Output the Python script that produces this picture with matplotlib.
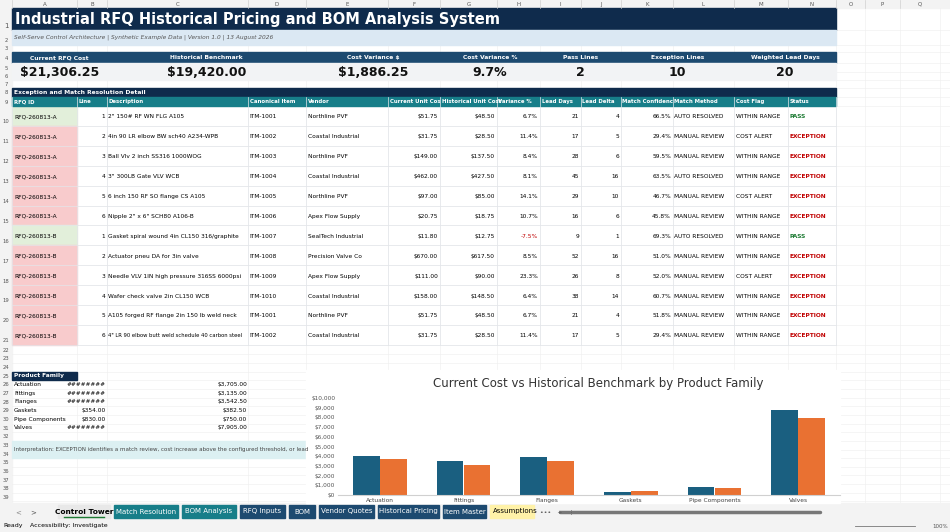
import matplotlib
matplotlib.use("Agg")
import matplotlib.pyplot as plt
from matplotlib.patches import Rectangle
import numpy as np

families = ["Actuation", "Fittings", "Flanges", "Gaskets", "Pipe Components", "Valves"]
current_cost = [4010.00, 3478.25, 3890.00, 354.00, 830.00, 8744.00]
historical_cost = [3705.00, 3135.00, 3542.50, 382.50, 750.00, 7905.00]

kpi_labels = ["Current RFQ Cost", "Historical Benchmark", "Cost Variance $", "Cost Variance %",
              "Pass Lines", "Exception Lines", "Weighted Lead Days"]
kpi_values = ["$21,306.25", "$19,420.00", "$1,886.25", "9.7%", "2", "10", "20"]

headers = ["RFQ ID", "Line", "Description", "Canonical Item", "Vendor", "Current Unit Cos",
           "Historical Unit Cost", "Variance %", "Lead Days", "Lead Delta", "Match Confidenc",
           "Match Method", "Cost Flag", "Status"]
rfq_ids = ["RFQ-260813-A"] * 6 + ["RFQ-260813-B"] * 6
lines = [1, 2, 3, 4, 5, 6, 1, 2, 3, 4, 5, 6]
descs = ['2" 150# RF WN FLG A105', "4in 90 LR elbow BW sch40 A234-WPB", "Ball Vlv 2 inch SS316 1000WOG",
         '3" 300LB Gate VLV WCB', "6 inch 150 RF SO flange CS A105", 'Nipple 2" x 6" SCH80 A106-B',
         "Gasket spiral wound 4in CL150 316/graphite", "Actuator pneu DA for 3in valve",
         "Needle VLV 1IN high pressure 316SS 6000psi", "Wafer check valve 2in CL150 WCB",
         "A105 forged RF flange 2in 150 lb weld neck", '4" LR 90 elbow butt weld schedule 40 carbon steel']
items = ["ITM-1001", "ITM-1002", "ITM-1003", "ITM-1004", "ITM-1005", "ITM-1006", "ITM-1007",
         "ITM-1008", "ITM-1009", "ITM-1010", "ITM-1001", "ITM-1002"]
vendors = ["Northline PVF", "Coastal Industrial", "Northline PVF", "Coastal Industrial", "Northline PVF",
           "Apex Flow Supply", "SealTech Industrial", "Precision Valve Co", "Apex Flow Supply",
           "Coastal Industrial", "Northline PVF", "Coastal Industrial"]
cur_unit = [51.75, 31.75, 149.00, 462.00, 97.00, 20.75, 11.80, 670.00, 111.00, 158.00, 51.75, 31.75]
hist_unit = [48.50, 28.50, 137.50, 427.50, 85.00, 18.75, 12.75, 617.50, 90.00, 148.50, 48.50, 28.50]
var_pct = [6.7, 11.4, 8.4, 8.1, 14.1, 10.7, -7.5, 8.5, 23.3, 6.4, 6.7, 11.4]
lead_days = [21, 17, 28, 45, 29, 16, 9, 52, 26, 38, 21, 17]
lead_delta = [4, 5, 6, 16, 10, 6, 1, 16, 8, 14, 4, 5]
match_conf = [66.5, 29.4, 59.5, 63.5, 46.7, 45.8, 69.3, 51.0, 52.0, 60.7, 51.8, 29.4]
methods = ["AUTO RESOLVED", "MANUAL REVIEW", "MANUAL REVIEW", "AUTO RESOLVED", "MANUAL REVIEW",
           "MANUAL REVIEW", "AUTO RESOLVED", "MANUAL REVIEW", "MANUAL REVIEW", "MANUAL REVIEW",
           "MANUAL REVIEW", "MANUAL REVIEW"]
flags = ["WITHIN RANGE", "COST ALERT", "WITHIN RANGE", "WITHIN RANGE", "COST ALERT", "WITHIN RANGE",
         "WITHIN RANGE", "WITHIN RANGE", "COST ALERT", "WITHIN RANGE", "WITHIN RANGE", "WITHIN RANGE"]
statuses = ["PASS", "EXCEPTION", "EXCEPTION", "EXCEPTION", "EXCEPTION", "EXCEPTION", "PASS",
            "EXCEPTION", "EXCEPTION", "EXCEPTION", "EXCEPTION", "EXCEPTION"]
pf_col_b = ["########", "########", "########", "$354.00", "$830.00", "########"]
sheet_tabs = ["Match Resolution", "BOM Analysis", "RFQ Inputs", "BOM", "Vendor Quotes",
              "Historical Pricing", "Item Master"]

NAVY = "#0f2b4c"; TEAL = "#177e89"; KPI = "#1d4a70"
fig = plt.figure(figsize=(9.5, 5.32), dpi=100)
ax = fig.add_axes([0, 0, 1, 1])
ax.set_xlim(0, 950); ax.set_ylim(532, 0); ax.axis("off")

cols = [12, 77, 107, 248, 306, 388, 440, 497, 540, 581, 621, 673, 734, 788, 836, 865, 900, 940, 950]
letters = "ABCDEFGHIJKLMNOPQ"
ax.add_patch(Rectangle((0, 0), 950, 8, color="#f3f3f3", zorder=0))
for i, L in enumerate(letters):
    ax.text((cols[i] + cols[i + 1]) / 2, 4.2, L, ha="center", va="center", fontsize=4, color="#555")
    ax.plot([cols[i], cols[i]], [0, 8], color="#d0d0d0", lw=0.5)
rows = {1: (8, 30), 2: (30, 45), 3: (45, 52), 4: (52, 63), 5: (63, 72), 6: (72, 80), 7: (80, 88),
        8: (88, 97), 9: (97, 106)}
for r in range(10, 22):
    y0 = 106 + (r - 10) * 19.9
    rows[r] = (y0, y0 + 19.9)
for r in range(22, 40):
    y0 = 345.7 + (r - 22) * 8.65
    rows[r] = (y0, y0 + 8.65)
ax.add_patch(Rectangle((0, 8), 12, 495, color="#f3f3f3", zorder=0))
for r, (a, b) in rows.items():
    ax.text(6, b - 1.5, str(r), ha="center", va="bottom", fontsize=3.8 if r > 1 else 5, color="#555")
    ax.plot([12, 950], [b, b], color="#eeeeee", lw=0.4, zorder=0)
for x in cols[1:]:
    ax.plot([x, x], [8, 503], color="#eeeeee", lw=0.4, zorder=0)

ax.add_patch(Rectangle((12, 8), 824, 22, color=NAVY))
ax.text(15, 19.5, "Industrial RFQ Historical Pricing and BOM Analysis System", fontsize=10.5,
        fontweight="bold", color="white", va="center")
ax.add_patch(Rectangle((12, 30), 824, 15, color="#dbe8f3"))
ax.text(14, 37.5, "Self-Serve Control Architecture | Synthetic Example Data | Version 1.0 | 13 August 2026",
        fontsize=4.2, style="italic", color="#555", va="center")
kx = [(12, 107), (107, 306), (306, 440), (440, 540), (540, 621), (621, 734), (734, 836)]
ax.add_patch(Rectangle((12, 52), 824, 11, color=KPI))
ax.add_patch(Rectangle((12, 63), 824, 17, color="#f2f3f5"))
for (a, b), lab, val in zip(kx, kpi_labels, kpi_values):
    ax.text((a + b) / 2, 57.5, lab, ha="center", va="center", fontsize=4.3, fontweight="bold", color="white")
    ax.text((a + b) / 2, 72, val, ha="center", va="center", fontsize=9, fontweight="bold", color="#111")
ax.add_patch(Rectangle((12, 88), 824, 9, color=NAVY))
ax.text(14, 92.5, "Exception and Match Resolution Detail", fontsize=4.3, fontweight="bold", color="white", va="center")
ax.add_patch(Rectangle((12, 97), 824, 9, color=TEAL))
for i, h in enumerate(headers):
    ax.text(cols[i] + 1.5, 101.5, h, fontsize=3.9, fontweight="bold", color="white", va="center")
    ax.plot([cols[i], cols[i]], [97, 345], color="#e3e6ea", lw=0.5, zorder=1)
ax.plot([836, 836], [97, 345], color="#e3e6ea", lw=0.5)
for k in range(12):
    y0, y1 = rows[10 + k]; yc = (y0 + y1) / 2 + 1
    ax.plot([12, 836], [y1, y1], color="#e3e6ea", lw=0.5)
    ax.add_patch(Rectangle((12, y0), 65, y1 - y0, color="#e2efda" if statuses[k] == "PASS" else "#f8cbcc", zorder=0.5))
    fs = 4.2
    ax.text(14, yc, rfq_ids[k], fontsize=fs, va="center")
    ax.text(cols[2] - 1.5, yc, str(lines[k]), fontsize=fs, va="center", ha="right")
    ax.text(cols[2] + 1.5, yc, descs[k], fontsize=fs if len(descs[k]) < 45 else 3.8, va="center")
    ax.text(cols[3] + 1.5, yc, items[k], fontsize=fs, va="center")
    ax.text(cols[4] + 1.5, yc, vendors[k], fontsize=fs, va="center")
    ax.text(cols[6] - 2, yc, f"${cur_unit[k]:,.2f}", fontsize=fs, va="center", ha="right")
    ax.text(cols[7] - 2, yc, f"${hist_unit[k]:,.2f}", fontsize=fs, va="center", ha="right")
    ax.text(cols[8] - 2, yc, f"{var_pct[k]:.1f}%", fontsize=fs, va="center", ha="right",
            color="#c00000" if var_pct[k] < 0 else "black")
    ax.text(cols[9] - 2, yc, str(lead_days[k]), fontsize=fs, va="center", ha="right")
    ax.text(cols[10] - 2, yc, str(lead_delta[k]), fontsize=fs, va="center", ha="right")
    ax.text(cols[11] - 2, yc, f"{match_conf[k]:.1f}%", fontsize=fs, va="center", ha="right")
    ax.text(cols[11] + 1.5, yc, methods[k], fontsize=fs, va="center")
    ax.text(cols[12] + 1.5, yc, flags[k], fontsize=fs, va="center")
    ax.text(cols[13] + 1.5, yc, statuses[k], fontsize=fs, va="center", fontweight="bold",
            color="#1e7b34" if statuses[k] == "PASS" else "#c00000")

y0, y1 = rows[25]
ax.add_patch(Rectangle((12, y0), 65, y1 - y0, color=NAVY))
ax.text(14, (y0 + y1) / 2, "Product Family", fontsize=4.2, fontweight="bold", color="white", va="center")
for k, f in enumerate(families):
    a, b = rows[26 + k]; yc = (a + b) / 2
    ax.text(14, yc, f, fontsize=4.2, va="center")
    ax.text(106, yc, pf_col_b[k], fontsize=4.2, va="center", ha="right")
    ax.text(247, yc, f"${historical_cost[k]:,.2f}", fontsize=4.2, va="center", ha="right")
box = Rectangle((12, rows[33][0]), 294, rows[34][1] - rows[33][0], color="#dcf0f2", zorder=0.5)
ax.add_patch(box)
t = ax.text(14, rows[33][1], "Interpretation: EXCEPTION identifies a match review, cost increase above the configured threshold, or lead",
            fontsize=4.0, color="#444", va="center")
t.set_clip_path(box)

ax.add_patch(Rectangle((0, 503), 950, 29, color="#f3f3f3"))
ax.text(15, 512, "<", fontsize=5, color="#888", va="center"); ax.text(30, 512, ">", fontsize=5, color="#555", va="center")
ax.add_patch(Rectangle((58, 505), 52, 13, color="#e8e8e8"))
ax.text(84, 511.5, "Control Tower", fontsize=5.3, ha="center", va="center", fontweight="bold")
ax.plot([64, 104], [517, 517], color="#1e7b34", lw=1)
tx = 114
tab_w = [64, 54, 45, 26, 55, 61, 43]
for k, (tname, w) in enumerate(zip(sheet_tabs, tab_w)):
    c = TEAL if k < 2 else KPI
    ax.add_patch(Rectangle((tx, 505), w, 13, color=c))
    ax.text(tx + w / 2, 511.5, tname, fontsize=5, color="white", ha="center", va="center")
    tx += w + 4
ab = Rectangle((tx, 505), 44, 13, color="#fff2a8")
ax.add_patch(ab)
at = ax.text(tx + 3, 511.5, "Assumptions", fontsize=5, va="center")
at.set_clip_path(ab)
ax.text(tx + 50, 511.5, "•••   +   ⋮", fontsize=4.5, va="center", color="#555")
ax.plot([560, 820], [511.5, 511.5], color="#777", lw=2.5, solid_capstyle="round")
ax.text(3, 526, "Ready", fontsize=4.5, va="center")
ax.text(30, 526, "Accessibility: Investigate", fontsize=4.5, va="center")
ax.text(932, 526, "100%", fontsize=4, va="center", color="#555")
ax.plot([855, 915], [526, 526], color="#777", lw=0.6)

ax.add_patch(Rectangle((306, 370), 534, 133, color="white", zorder=1))
cax = fig.add_axes([338 / 950, 1 - 495 / 532, 502 / 950, 97 / 532])
x = np.arange(len(families))
w = 0.32
cax.bar(x - w / 2, current_cost, w, color="#1a5f80")
cax.bar(x + w / 2, historical_cost, w, color="#e97132")
cax.set_xlim(-0.5, 5.5); cax.set_ylim(0, 10000)
cax.set_yticks(range(0, 10001, 1000))
cax.set_yticklabels([f"${v:,}" for v in range(0, 10001, 1000)], fontsize=4.2, color="#555")
cax.set_xticks(x); cax.set_xticklabels(families, fontsize=4.2, color="#444")
cax.tick_params(length=0, pad=2)
for s in ["top", "right", "left"]:
    cax.spines[s].set_visible(False)
cax.spines["bottom"].set_color("#d0d0d0")
cax.set_facecolor("white")
fig.text(598 / 950, 1 - 383 / 532, "Current Cost vs Historical Benchmark by Product Family",
         fontsize=8.5, ha="center", va="center", color="#333")

fig.savefig("out.png", dpi=100)
